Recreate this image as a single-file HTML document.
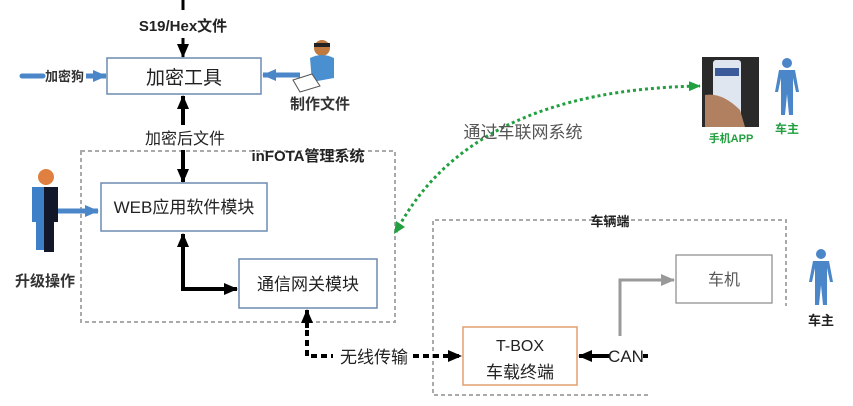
<!DOCTYPE html>
<html><head><meta charset="utf-8"><style>
html,body{margin:0;padding:0;background:#fff;}
svg{display:block;}
text{font-family:"Liberation Sans","Noto Sans CJK SC",sans-serif;}
</style></head><body>
<svg width="853" height="406" viewBox="0 0 853 406" xmlns="http://www.w3.org/2000/svg">
<defs>
<marker id="ab" markerWidth="14" markerHeight="12" refX="13" refY="6" orient="auto" markerUnits="userSpaceOnUse"><path d="M0,0 L14,6 L0,12 Z" fill="#000"/></marker>
<marker id="abl" markerWidth="14" markerHeight="12" refX="13" refY="6" orient="auto" markerUnits="userSpaceOnUse"><path d="M0,0 L14,6 L0,12 Z" fill="#4a86c8"/></marker>
<marker id="ag" markerWidth="12" markerHeight="10" refX="11" refY="5" orient="auto" markerUnits="userSpaceOnUse"><path d="M0,0 L12,5 L0,10 Z" fill="#22a040"/></marker>
<marker id="agr" markerWidth="14" markerHeight="12" refX="13" refY="6" orient="auto" markerUnits="userSpaceOnUse"><path d="M0,0 L14,6 L0,12 Z" fill="#999"/></marker>
</defs>

<rect x="81" y="151" width="314" height="171" fill="none" stroke="#aaa" stroke-width="2" stroke-dasharray="4,3"/>
<path d="M648,395 L433,395 L433,220 L786,220 L786,306" fill="none" stroke="#aaa" stroke-width="2" stroke-dasharray="4,3"/>

<line x1="183" y1="0" x2="183" y2="10" stroke="#000" stroke-width="3"/>
<text x="183" y="31" font-size="15" text-anchor="middle" font-weight="bold" fill="#222">S19/Hex文件</text>
<line x1="183" y1="38" x2="183" y2="57" stroke="#000" stroke-width="3" marker-end="url(#ab)"/>

<rect x="107" y="58" width="154" height="36" fill="#fff" stroke="#6c8cb0" stroke-width="1.5"/>
<text x="184" y="84" font-size="19" text-anchor="middle" fill="#222">加密工具</text>

<line x1="22" y1="76" x2="43" y2="76" stroke="#4a86c8" stroke-width="5" stroke-linecap="round"/>
<text x="45" y="81" font-size="13" font-weight="bold" fill="#333">加密狗</text>
<line x1="86" y1="76" x2="106" y2="76" stroke="#4a86c8" stroke-width="5" marker-end="url(#abl)"/>

<line x1="300" y1="75" x2="263" y2="75" stroke="#4a86c8" stroke-width="5" marker-end="url(#abl)"/>
<circle cx="322" cy="48" r="8" fill="#c07a40"/>
<rect x="314" y="43" width="16" height="4" fill="#222"/>
<path d="M310,58 Q322,52 334,58 L334,78 L312,82 Z" fill="#4a90d0"/>
<path d="M293,80 L312,74 L320,86 L300,92 Z" fill="#fff" stroke="#555"/>
<text x="320" y="109" font-size="15" text-anchor="middle" font-weight="bold" fill="#333">制作文件</text>

<line x1="183" y1="125" x2="183" y2="96" stroke="#000" stroke-width="4" marker-end="url(#ab)"/>
<text x="185" y="144" font-size="16" text-anchor="middle" fill="#222">加密后文件</text>
<line x1="183" y1="150" x2="183" y2="182" stroke="#000" stroke-width="4" marker-end="url(#ab)"/>
<text x="308" y="161" font-size="15" text-anchor="middle" font-weight="bold" fill="#222">inFOTA管理系统</text>

<rect x="101" y="183" width="166" height="48" fill="#fff" stroke="#6c8cb0" stroke-width="1.5"/>
<text x="184" y="213" font-size="17" text-anchor="middle" fill="#222">WEB应用软件模块</text>

<circle cx="46" cy="177" r="8" fill="#e08040"/>
<path d="M32,187 L58,187 L58,222 L54,222 L54,250 L36,250 L36,222 L32,222 Z" fill="#3d80c8"/>
<path d="M44,187 L58,187 L58,222 L54,222 L54,252 L44,252 Z" fill="#12182a"/>
<line x1="58" y1="211" x2="98" y2="211" stroke="#4a86c8" stroke-width="5" marker-end="url(#abl)"/>
<text x="45" y="286" font-size="15" text-anchor="middle" font-weight="bold" fill="#333">升级操作</text>

<path d="M183,247 L183,289 L237,289" fill="none" stroke="#000" stroke-width="4" marker-end="url(#ab)"/>
<line x1="183" y1="250" x2="183" y2="234" stroke="#000" stroke-width="4" marker-end="url(#ab)"/>

<rect x="239" y="259" width="138" height="49" fill="#fff" stroke="#6c8cb0" stroke-width="1.5"/>
<text x="308" y="290" font-size="17" text-anchor="middle" fill="#222">通信网关模块</text>

<path d="M307,330 L307,356 L333,356" fill="none" stroke="#000" stroke-width="4" stroke-dasharray="6,4"/>
<line x1="307" y1="328" x2="307" y2="310" stroke="#000" stroke-width="4" marker-end="url(#ab)"/>
<text x="374" y="363" font-size="17" text-anchor="middle" fill="#222">无线传输</text>
<line x1="413" y1="356" x2="461" y2="356" stroke="#000" stroke-width="4" stroke-dasharray="6,4" marker-end="url(#ab)"/>

<rect x="463" y="327" width="114" height="58" fill="#fff" stroke="#e0a070" stroke-width="1.5"/>
<text x="520" y="351" font-size="16" text-anchor="middle" fill="#222">T-BOX</text>
<text x="520" y="378" font-size="17" text-anchor="middle" fill="#222">车载终端</text>

<line x1="610" y1="356" x2="579" y2="356" stroke="#000" stroke-width="4" marker-end="url(#ab)"/>
<text x="626" y="362" font-size="17" text-anchor="middle" fill="#222">CAN</text>
<line x1="643" y1="356" x2="648" y2="356" stroke="#000" stroke-width="4"/>

<path d="M620,336 L620,280 L674,280" fill="none" stroke="#999" stroke-width="3" marker-end="url(#agr)"/>
<rect x="676" y="255" width="96" height="48" fill="#fff" stroke="#888" stroke-width="1.2"/>
<text x="724" y="285" font-size="16" text-anchor="middle" fill="#555">车机</text>
<text x="610" y="226" font-size="13" text-anchor="middle" font-weight="bold" fill="#222">车辆端</text>

<g fill="#4a86c8">
<circle cx="821" cy="254" r="5"/>
<path d="M813,261 L829,261 L833,282 L830,282 L827,268 L827,305 L823,305 L821,285 L819,305 L815,305 L815,268 L812,282 L809,282 Z"/>
</g>
<text x="821" y="325" font-size="13" text-anchor="middle" font-weight="bold" fill="#222">车主</text>

<path d="M396,232 Q470,90 700,86" fill="none" stroke="#22a040" stroke-width="3" stroke-dasharray="3,3" marker-end="url(#ag)"/>
<path d="M394,234 L396,221 L405,227 Z" fill="#22a040"/>
<text x="523" y="138" font-size="17" text-anchor="middle" fill="#555">通过车联网系统</text>

<rect x="702" y="57" width="57" height="70" fill="#2a2a2a"/>
<rect x="713" y="60" width="28" height="62" rx="3" fill="#dfe6f0"/>
<rect x="715" y="68" width="24" height="8" fill="#3a5a9a"/>
<path d="M705,95 Q722,92 740,110 L745,127 L705,127 Z" fill="#b08060"/>
<text x="731" y="142" font-size="11" text-anchor="middle" font-weight="bold" fill="#22a040">手机APP</text>
<g fill="#4a86c8">
<circle cx="787" cy="63" r="5"/>
<path d="M779,70 L795,70 L799,92 L796,92 L793,78 L793,115 L789,115 L787,94 L785,115 L781,115 L781,78 L778,92 L775,92 Z"/>
</g>
<text x="787" y="133" font-size="12" text-anchor="middle" font-weight="bold" fill="#22a040">车主</text>
</svg>
</body></html>
